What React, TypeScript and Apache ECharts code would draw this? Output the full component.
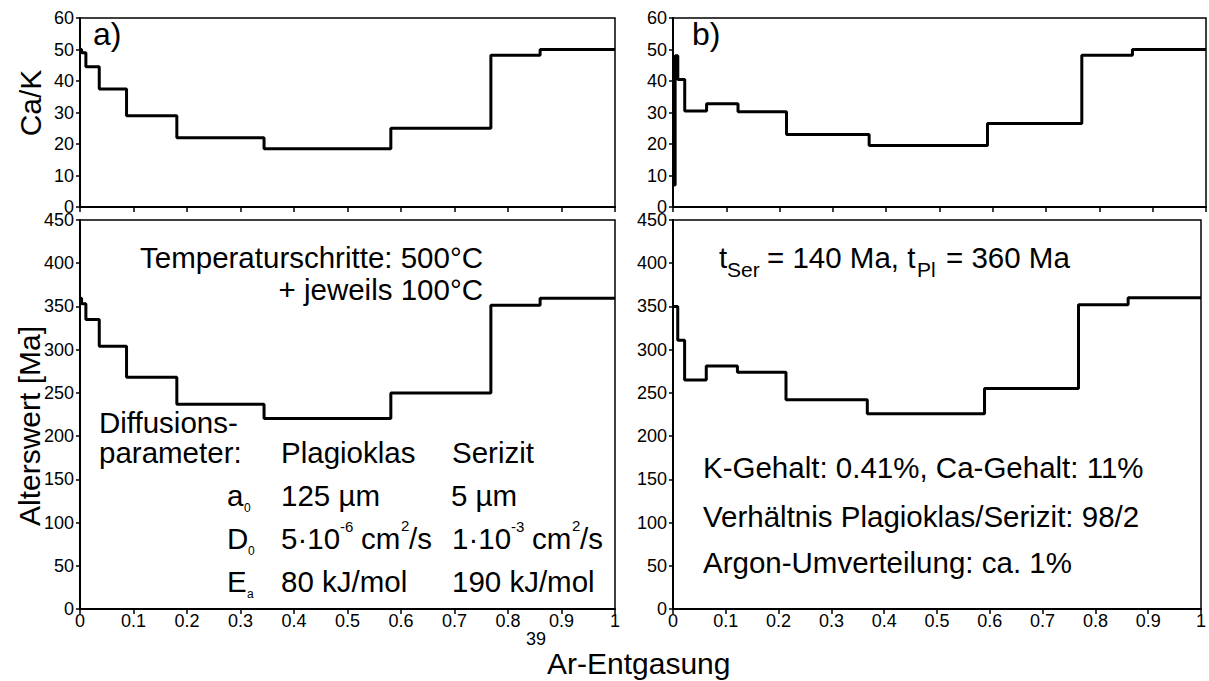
import React, { useEffect, useRef } from "react";
import * as echarts from "echarts";

// ---- data ----
// a) left panels: shared step boundaries (fraction of 39Ar released)
const stepsA = [0, 0.003, 0.011, 0.036, 0.087, 0.181, 0.344, 0.581, 0.768, 0.86, 1];
const caKA = [50, 49, 44.5, 37.5, 29, 22, 18.5, 25, 48.2, 50, 50];
const ageA = [359.5, 353, 335, 304, 268, 237, 220.5, 250, 351.5, 359.5, 359.5];

// b) right panels
const stepsCaKB = [0, 0.004, 0.009, 0.022, 0.063, 0.122, 0.213, 0.368, 0.59, 0.767, 0.862, 1];
const caKB = [7, 48, 40.5, 30.5, 32.8, 30.2, 23, 19.5, 26.5, 48.2, 50, 50];
const stepsAgeB = [0, 0.009, 0.022, 0.063, 0.122, 0.214, 0.368, 0.59, 0.768, 0.862, 1];
const ageB = [350, 311, 265, 281, 274, 242, 226, 255, 352, 360, 360];

const FONT = "'Liberation Sans', Arial, Helvetica, sans-serif";
const FS = 29.5;

const zip = (xs: number[], ys: number[]) => xs.map((x, i) => [x, ys[i]]);

const txt = (
  x: number,
  baseline: number,
  text: string,
  size = FS,
  align: "left" | "right" | "center" = "left"
) => ({
  type: "text",
  x,
  y: baseline - 0.3465 * size,
  silent: true,
  style: {
    text,
    fill: "#000",
    font: `${size}px ${FONT}`,
    fontSize: size,
    fontFamily: FONT,
    align,
    textAlign: align,
    verticalAlign: "middle",
    textVerticalAlign: "middle",
  },
});

const rotTxt = (x: number, y: number, text: string, size: number) => ({
  type: "text",
  x,
  y,
  rotation: Math.PI / 2,
  silent: true,
  style: {
    text,
    fill: "#000",
    font: `${size}px ${FONT}`,
    fontSize: size,
    fontFamily: FONT,
    align: "center",
    textAlign: "center",
    verticalAlign: "middle",
    textVerticalAlign: "middle",
  },
});

const grids = [
  { left: 80, top: 18, width: 535, height: 189 },
  { left: 80, top: 220, width: 535, height: 389 },
  { left: 673, top: 18, width: 533, height: 189 },
  { left: 673, top: 220, width: 533, height: 389 },
].map((g) => ({ ...g, show: true, borderColor: "#000", borderWidth: 1.5, backgroundColor: "transparent" }));

const xAxisFor = (gridIndex: number, labels: boolean) => ({
  type: "value",
  gridIndex,
  min: 0,
  max: 1,
  interval: 0.1,
  axisLine: { show: true, onZero: false, lineStyle: { color: "#000", width: 2 } },
  axisTick: { show: true, inside: false, length: 5, lineStyle: { color: "#000", width: 1.5 } },
  axisLabel: { show: labels, margin: 3, color: "#000", fontSize: 18, fontFamily: FONT },
  splitLine: { show: false },
});

const yAxisFor = (gridIndex: number, max: number, interval: number) => ({
  type: "value",
  gridIndex,
  min: 0,
  max,
  interval,
  axisLine: { show: true, onZero: false, lineStyle: { color: "#000", width: 2 } },
  axisTick: { show: true, inside: false, length: 4, lineStyle: { color: "#000", width: 1.5 } },
  axisLabel: { show: true, margin: 6, color: "#000", fontSize: 18, fontFamily: FONT },
  splitLine: { show: false },
});

const stepSeries = (idx: number, data: number[][]) => ({
  type: "line",
  xAxisIndex: idx,
  yAxisIndex: idx,
  data,
  step: "end",
  symbol: "none",
  showSymbol: false,
  lineStyle: { color: "#000", width: 3 },
  silent: true,
});

export default function App() {
  const ref = useRef<HTMLDivElement>(null);

  useEffect(() => {
    if (!ref.current) return;
    const chart = echarts.init(ref.current, undefined, { renderer: "svg" });

    const graphics: any[] = [
      // panel letters
      txt(93, 45, "a)", 32),
      txt(692, 45, "b)", 32),
      // axis titles
      rotTxt(30, 103, "Ca/K", 30),
      rotTxt(29, 426, "Alterswert [Ma]", 30),
      txt(526, 645, "39", 18),
      txt(547, 674, "Ar-Entgasung", 30),
      // left panel annotations
      txt(483, 268, "Temperaturschritte: 500°C", FS, "right"),
      txt(483, 300, "+ jeweils 100°C", FS, "right"),
      txt(99, 433, "Diffusions-", FS),
      txt(99, 463, "parameter:", FS),
      txt(281, 463, "Plagioklas", FS),
      txt(452, 463, "Serizit", FS),
      txt(227, 506, "a", FS),
      txt(244, 512, "0", 12),
      txt(281, 506, "125 µm", FS),
      txt(451, 506, "5 µm", FS),
      txt(227, 549, "D", FS),
      txt(248, 555, "0", 12),
      txt(281, 549, "5·10", FS),
      txt(340, 532, "-6", 15),
      txt(361, 549, "cm", FS),
      txt(401, 531, "2", 15),
      txt(409, 549, "/s", FS),
      txt(452, 549, "1·10", FS),
      txt(511, 532, "-3", 15),
      txt(532, 549, "cm", FS),
      txt(572, 531, "2", 15),
      txt(580, 549, "/s", FS),
      txt(227, 592, "E", FS),
      txt(247, 598, "a", 12),
      txt(281, 592, "80 kJ/mol", FS),
      txt(452, 592, "190 kJ/mol", FS),
      // right panel annotations
      txt(719, 268, "t", FS),
      txt(727, 277, "Ser", 21),
      txt(767, 268, "= 140 Ma, t", FS),
      txt(917, 277, "Pl", 21),
      txt(946, 268, "= 360 Ma", FS),
      txt(703, 478, "K-Gehalt: 0.41%, Ca-Gehalt: 11%", FS),
      txt(703, 527, "Verhältnis Plagioklas/Serizit: 98/2", FS),
      txt(703, 573, "Argon-Umverteilung: ca. 1%", FS),
    ];

    chart.setOption({
      animation: false,
      backgroundColor: "#fff",
      textStyle: { fontFamily: FONT },
      grid: grids,
      xAxis: [xAxisFor(0, false), xAxisFor(1, true), xAxisFor(2, false), xAxisFor(3, true)],
      yAxis: [yAxisFor(0, 60, 10), yAxisFor(1, 450, 50), yAxisFor(2, 60, 10), yAxisFor(3, 450, 50)],
      series: [
        stepSeries(0, zip(stepsA, caKA)),
        stepSeries(1, zip(stepsA, ageA)),
        stepSeries(2, zip(stepsCaKB, caKB)),
        stepSeries(3, zip(stepsAgeB, ageB)),
      ],
      graphic: graphics,
    });

    return () => chart.dispose();
  }, []);

  return (
    <div
      ref={ref}
      style={{ position: "fixed", left: 0, top: 0, width: 1209, height: 681, background: "#fff" }}
    />
  );
}
